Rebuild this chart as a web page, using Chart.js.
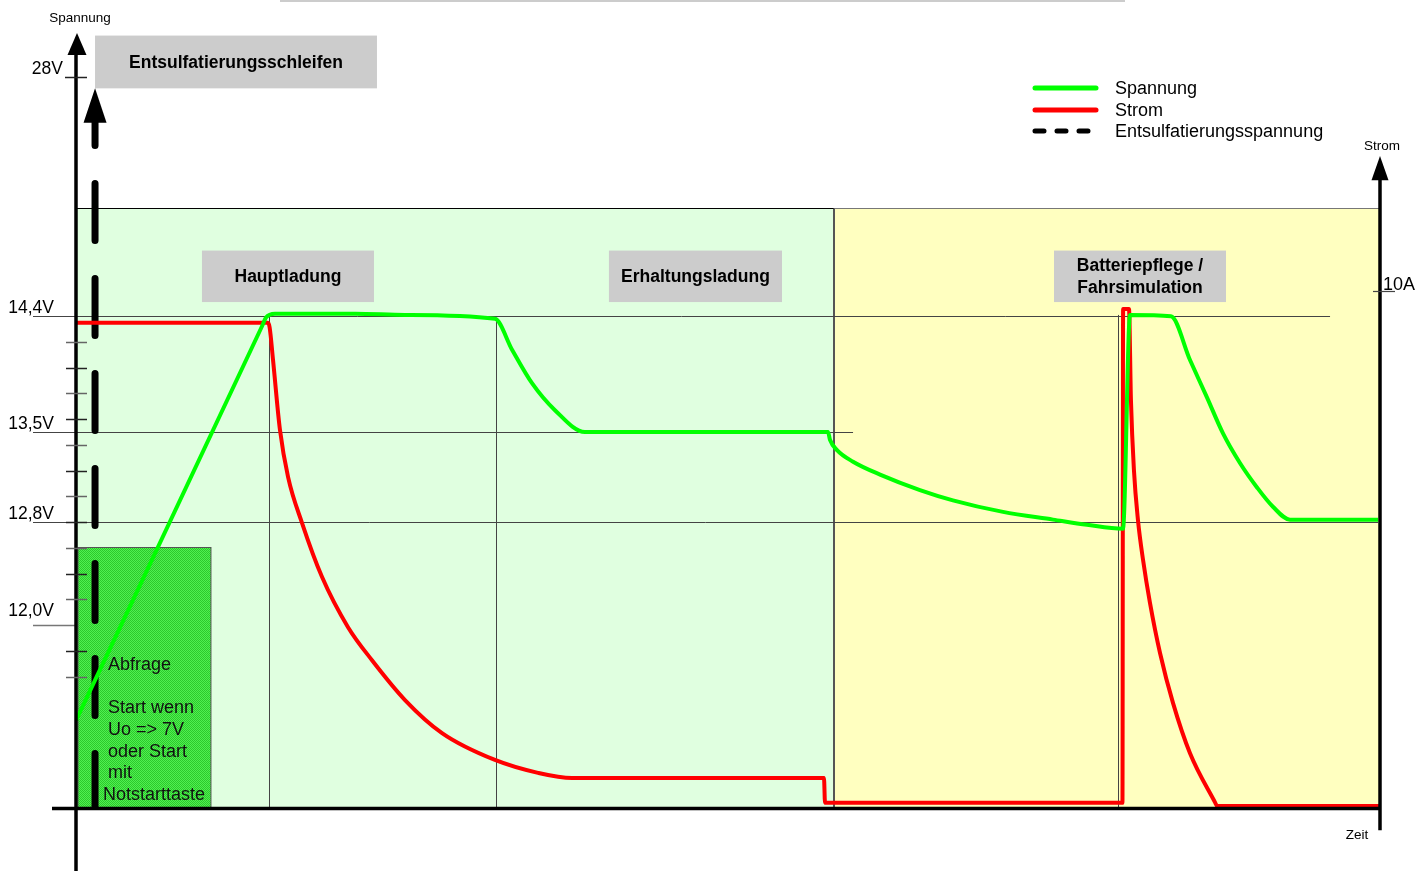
<!DOCTYPE html>
<html lang="de">
<head>
<meta charset="utf-8">
<title>Ladekennlinie</title>
<script src="https://cdn.jsdelivr.net/npm/chart.js@4.4.1/dist/chart.umd.min.js"></script>
<style>
  html, body { margin: 0; padding: 0; background: #fff; }
  canvas { display: block; }
</style>
</head>
<body>
<canvas id="ladeChart" width="1428" height="871"></canvas>
<script>
// Zeit ohne Einheit (0..100), Spannung in V, Strom in A
const spannungZeit  = [0, 14.3, 14.57, 15.26, 21.4, 25.23, 32.13, 33.44, 34.97, 36.73, 39.03, 57.67, 57.82, 58.36, 59.59, 61.66, 64.72, 67.25, 71.09, 74.92, 77.53, 80.29, 80.83, 83.97, 85.43, 86.73, 87.96, 89.26, 90.57, 91.79, 93.1, 99.85];
const spannungWerte = [11.26, 14.33, 14.39, 14.42, 14.42, 14.41, 14.38, 14.14, 13.88, 13.67, 13.5, 13.5, 13.44, 13.36, 13.27, 13.17, 13.05, 12.97, 12.88, 12.82, 12.78, 12.75, 14.41, 14.4, 14.06, 13.77, 13.49, 13.26, 13.07, 12.92, 12.82, 12.82];

const stromZeit  = [0, 14.72, 14.85, 15.11, 15.64, 16.26, 17.33, 18.87, 20.86, 22.7, 25.23, 28.07, 32.13, 35.43, 38.04, 40.18, 57.36, 57.44, 80.25, 80.3, 80.75, 80.9, 81.13, 81.44, 81.83, 82.36, 83.13, 84.13, 85.43, 87.35, 87.5, 100];
const stromWerte = [9.39, 9.39, 9.3, 8.67, 7.32, 6.41, 5.52, 4.47, 3.5, 2.86, 2.09, 1.45, 0.93, 0.68, 0.58, 0.58, 0.58, 0.1, 0.1, 9.66, 9.66, 7.9, 6.54, 5.57, 4.8, 3.97, 3.0, 2.03, 1.06, 0.11, 0.04, 0.04];

const entsulfZeit  = [1.46, 1.46];
const entsulfWerte = [10.56, 15.91];

const spannungTicks  = [14.4, 13.5, 12.8, 12.0];
const spannungLabels = ['14,4V', '13,5V', '12,8V', '12,0V'];
const feinTicks = [11.6, 11.8, 12.2, 12.4, 12.6, 12.8, 13.0, 13.2, 13.4, 13.6, 13.8, 14.0, 14.2];
const bruchTick = 16.26, bruchLabel = '28V';
const stromTick = 10, stromLabel = '10A';

const phasen = ['Entsulfatierungsschleifen', 'Hauptladung', 'Erhaltungsladung', 'Batteriepflege /|Fahrsimulation'];
const abfrageText = ['Abfrage', '', 'Start wenn', 'Uo => 7V', 'oder Start', 'mit', 'Notstarttaste'];

// Lage der Kaesten und Flaechen (in Achseneinheiten)
const phasenLage = [
  { von: 1.46, bis: 23.08, oben: 16.58, unten: 16.17 },
  { von: 9.66, bis: 22.85, oben: 14.91, unten: 14.51 },
  { von: 40.87, bis: 54.14, oben: 14.91, unten: 14.51 },
  { von: 75.0, bis: 88.19, oben: 14.91, unten: 14.51 }
];
const flaechen = [
  { von: 0, bis: 58.13, farbe: '#e0ffe0', rand: '#000000' },
  { von: 58.13, bis: 100, farbe: '#ffffc0', rand: '#777777' }
];
const flaechenOben = 15.24;
const hLinien = [ { v: 14.4, bis: 96.17 }, { v: 13.5, bis: 59.59 }, { v: 12.8, bis: 99.85 } ];
const vLinien = [ { t: 14.8, v: 14.4 }, { t: 32.21, v: 14.38 }, { t: 79.9, v: 14.41 } ];

const FONT = '"Liberation Sans", Arial, sans-serif';

const hatch = document.createElement('canvas');
hatch.width = hatch.height = 2;
const hc = hatch.getContext('2d');
hc.fillStyle = '#50f050'; hc.fillRect(0, 0, 2, 2);
hc.fillStyle = '#2cc82c'; hc.fillRect(0, 0, 1, 1); hc.fillRect(1, 1, 1, 1);

function hLine(ctx, x0, x1, yy, w, col) {
  ctx.strokeStyle = col; ctx.lineWidth = w;
  ctx.beginPath(); ctx.moveTo(x0, yy); ctx.lineTo(x1, yy); ctx.stroke();
}
function vLine(ctx, xx, y0, y1, w, col) {
  ctx.strokeStyle = col; ctx.lineWidth = w;
  ctx.beginPath(); ctx.moveTo(xx, y0); ctx.lineTo(xx, y1); ctx.stroke();
}
function pfeil(ctx, xx, spitze, basis, halb) {
  ctx.fillStyle = '#000';
  ctx.beginPath(); ctx.moveTo(xx, spitze); ctx.lineTo(xx + halb, basis); ctx.lineTo(xx - halb, basis); ctx.closePath(); ctx.fill();
}

const deko = {
  id: 'deko',
  beforeDatasetsDraw(chart) {
    const { ctx, chartArea: a } = chart;
    const X = v => chart.scales.x.getPixelForValue(v);
    const Y = v => chart.scales.y.getPixelForValue(v);
    ctx.save();
    ctx.fillStyle = '#cccccc';
    ctx.fillRect(280, 0, 845, 2);

    // Hintergrundflaechen
    const yo = Math.round(Y(flaechenOben)) + 0.5;
    flaechen.forEach(f => {
      ctx.fillStyle = f.farbe;
      ctx.fillRect(X(f.von), yo, X(f.bis) - X(f.von), a.bottom - yo);
      hLine(ctx, X(f.von), X(f.bis), yo, 1, f.rand);
    });
    vLine(ctx, Math.round(X(flaechen[1].von)), yo, a.bottom, 2, '#555555');

    // Hilfslinien
    hLinien.forEach(l => {
      const yy = Math.round(Y(l.v)) + 0.5;
      hLine(ctx, a.left - 43, X(l.bis), yy, 1, '#444444');
    });
    hLine(ctx, a.left - 43, a.left, Math.round(Y(12.0)) + 0.5, 1.5, '#777777');
    vLinien.forEach(l => {
      vLine(ctx, Math.round(X(l.t)) + 0.5, Y(l.v), a.bottom, 1, '#444444');
    });

    // Abfrage-Kasten
    const kx0 = X(0.15), kx1 = X(10.35), ky0 = Math.round(Y(12.61)) + 0.5;
    ctx.fillStyle = ctx.createPattern(hatch, 'repeat');
    ctx.fillRect(kx0, ky0, kx1 - kx0, a.bottom - ky0);
    ctx.strokeStyle = '#555'; ctx.lineWidth = 1;
    ctx.strokeRect(kx0, ky0, kx1 - kx0, a.bottom - ky0);
    ctx.fillStyle = '#111';
    ctx.font = '18px ' + FONT;
    ctx.textAlign = 'left'; ctx.textBaseline = 'middle';
    abfrageText.forEach((s, i) => {
      const xx = s === 'Notstarttaste' ? kx0 + 25 : kx0 + 30;
      ctx.fillText(s, xx, 665 + i * 21.7);
    });

    // Phasen-Kaesten
    phasen.forEach((p, i) => {
      const l = phasenLage[i];
      const x0 = X(l.von), x1 = X(l.bis), y0 = Y(l.oben), y1 = Y(l.unten);
      ctx.fillStyle = '#cccccc';
      ctx.fillRect(x0, y0, x1 - x0, y1 - y0);
      ctx.fillStyle = '#000';
      ctx.font = 'bold 17.5px ' + FONT;
      ctx.textAlign = 'center'; ctx.textBaseline = 'middle';
      const zeilen = p.split('|');
      zeilen.forEach((z, j) => {
        ctx.fillText(z, (x0 + x1) / 2, (y0 + y1) / 2 + 1 + (j - (zeilen.length - 1) / 2) * 22);
      });
    });
    ctx.restore();
  },
  afterDatasetsDraw(chart) {
    const { ctx, chartArea: a } = chart;
    const Y = v => chart.scales.y.getPixelForValue(v);
    const Y1 = v => chart.scales.y1.getPixelForValue(v);
    ctx.save();

    // Spannungsachse
    vLine(ctx, a.left, a.top + 20, chart.height, 3.5, '#000');
    pfeil(ctx, a.left + 1, a.top, a.top + 22, 9.5);
    feinTicks.forEach((v, i) => {
      hLine(ctx, a.left - 10, a.left + 11, Math.round(Y(v)) + 0.5, 1.5, i % 2 ? '#222' : '#666');
    });
    hLine(ctx, a.left - 11, a.left + 11, Math.round(Y(bruchTick)) + 0.5, 1.5, '#222');

    ctx.fillStyle = '#000';
    ctx.font = '17.5px ' + FONT;
    ctx.textAlign = 'right'; ctx.textBaseline = 'alphabetic';
    spannungTicks.forEach((v, i) => {
      const dy = v === 12.0 ? 9 : 3;
      ctx.fillText(spannungLabels[i], a.left - 22, Y(v) - dy);
    });
    ctx.fillText(bruchLabel, a.left - 13, Y(bruchTick) - 3);

    // Zeitachse
    hLine(ctx, a.left - 24, a.right, a.bottom + 0.5, 3.5, '#000');

    // Stromachse
    vLine(ctx, a.right, Y1(12.2), Y1(-0.43), 3.5, '#000');
    pfeil(ctx, a.right, Y1(12.62), Y1(12.15), 8.5);
    hLine(ctx, a.right - 7, a.right + 15, Math.round(Y1(stromTick)) + 0.5, 1.2, '#444');
    ctx.textAlign = 'left';
    ctx.font = '18px ' + FONT;
    ctx.fillText(stromLabel, a.right + 3, Y1(stromTick) - 1);

    // Achsentitel
    ctx.font = '13.5px ' + FONT;
    ctx.textAlign = 'center'; ctx.textBaseline = 'middle';
    ctx.fillText('Spannung', 80, 18);
    ctx.fillText('Strom', 1382, 146);
    ctx.fillText('Zeit', 1357, 835);

    // Pfeil der Entsulfatierungsspannung
    const ent = chart.getDatasetMeta(2).data;
    pfeil(ctx, ent[1].x, Y(16.17), ent[1].y + 1, 11.5);

    // Legende
    const lx0 = 1035, lx1 = 1096, lt = 1115, ly = [88, 110, 131];
    ctx.font = '18px ' + FONT;
    ctx.textAlign = 'left';
    chart.data.datasets.forEach((ds, i) => {
      ctx.strokeStyle = ds.borderColor;
      ctx.lineWidth = 5;
      ctx.lineCap = 'round';
      ctx.setLineDash(ds.borderDash && ds.borderDash.length ? [9, 13] : []);
      ctx.beginPath(); ctx.moveTo(lx0, ly[i]); ctx.lineTo(lx1, ly[i]); ctx.stroke();
      ctx.setLineDash([]);
      ctx.fillStyle = '#000';
      ctx.fillText(ds.label, lt, ly[i] + 1);
    });
    ctx.restore();
  }
};

const toXY = (ts, vs) => ts.map((t, i) => ({ x: t, y: vs[i] }));

new Chart(document.getElementById('ladeChart'), {
  type: 'line',
  data: {
    datasets: [
      {
        label: 'Spannung',
        data: toXY(spannungZeit, spannungWerte),
        borderColor: '#00ff00',
        borderWidth: 4,
        cubicInterpolationMode: 'monotone',
        yAxisID: 'y'
      },
      {
        label: 'Strom',
        data: toXY(stromZeit, stromWerte),
        borderColor: '#ff0000',
        borderWidth: 4,
        cubicInterpolationMode: 'monotone',
        yAxisID: 'y1'
      },
      {
        label: 'Entsulfatierungsspannung',
        data: toXY(entsulfZeit, entsulfWerte),
        borderColor: '#000000',
        borderWidth: 7,
        borderDash: [57, 38],
        borderCapStyle: 'round',
        yAxisID: 'y'
      }
    ]
  },
  options: {
    responsive: false,
    animation: false,
    events: [],
    layout: { padding: { left: 76, right: 48, top: 33, bottom: 63 } },
    elements: {
      point: { radius: 0 },
      line: { tension: 0, fill: false, borderJoinStyle: 'round' }
    },
    scales: {
      x: { type: 'linear', min: 0, max: 100, display: false },
      y: { type: 'linear', min: 10.58, max: 16.6, display: false },
      y1: { type: 'linear', min: 0, max: 15, display: false }
    },
    plugins: {
      legend: { display: false },
      tooltip: { enabled: false }
    }
  },
  plugins: [deko]
});
</script>
</body>
</html>
